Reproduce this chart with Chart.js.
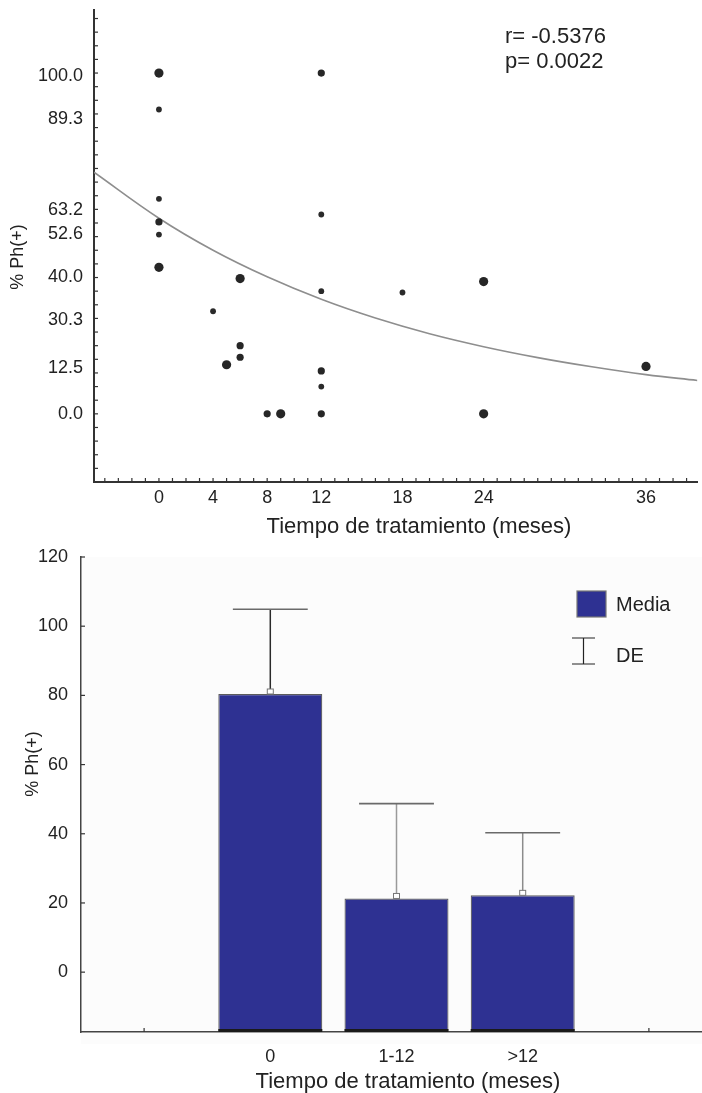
<!DOCTYPE html>
<html>
<head>
<meta charset="utf-8">
<script src="https://cdn.jsdelivr.net/npm/chart.js@4.4.1/dist/chart.umd.min.js"></script>
<style>
html, body { margin: 0; padding: 0; background: #fff; overflow: hidden; }
#top { position: absolute; left: 0; top: 0; width: 702px; height: 545px; }
#bottom { position: absolute; left: 0; top: 545px; width: 712px; height: 548px; }
</style>
</head>
<body>
<div id="top"><canvas id="scatter"></canvas></div>
<div id="bottom"><canvas id="bars"></canvas></div>
<script>
// --- scatter: % Ph(+) against months of treatment ---
const bigMonths = [0, 0, 6, 5, 9, 24, 24, 36];
const bigPh     = [100, 43, 39.7, 14.4, 0, 38.8, 0, 13.9];
const midMonths = [12, 0, 6, 6, 12, 8, 12];
const midPh     = [100, 56.3, 20, 16.6, 12.6, 0, 0];
const smallMonths = [0, 0, 0, 12, 4, 12, 12, 18];
const smallPh     = [89.3, 63.1, 52.6, 58.5, 30.1, 36, 8, 35.6];

// fitted curve
const curveMonths = [-4.8, 0, 4, 8, 12, 16, 20, 24, 28, 32, 36, 39.8];
const curvePh     = [70.9, 57.4, 48.0, 40.2, 33.6, 28.1, 23.5, 19.7, 16.5, 13.8, 11.5, 9.8];

const xTickLabels = [0, 4, 8, 12, 18, 24, 36];
const yTickText = ['0.0', '12.5', '30.3', '40.0', '52.6', '63.2', '89.3', '100.0'];
const yTickAt   = [0, 13.5, 27.6, 40, 52.9, 59.7, 86.5, 99];

const statsText = ['r= -0.5376', 'p= 0.0022'];
const xTitle = 'Tiempo de tratamiento (meses)';
const yTitle = '% Ph(+)';

// --- bars: mean and SD by treatment group ---
const groups = ['0', '1-12', '>12'];
const groupMean = [80.4, 21.3, 22.2];
const groupSD   = [24.5, 27.4, 18.1];
const barTicks  = [0, 20, 40, 60, 80, 100, 120];

const FONT = '"Liberation Sans", Arial, sans-serif';
Chart.defaults.font.family = FONT;
Chart.defaults.color = '#222';

const pts = (xs, ys) => xs.map((x, i) => ({x: x, y: ys[i]}));

// small tick marks pointing into the plot
const innerTicks = {
  id: 'innerTicks',
  beforeDatasetsDraw(chart, args, opts) {
    const ctx = chart.ctx;
    ctx.save();
    ctx.strokeStyle = '#333';
    ctx.lineWidth = 1.2;
    ['x', 'y'].forEach(id => {
      const sc = chart.scales[id];
      const step = opts[id];
      if (!step) return;
      const start = Math.ceil(sc.min / step) * step;
      for (let v = start; v <= sc.max + 1e-9; v += step) {
        const p = sc.getPixelForValue(v);
        ctx.beginPath();
        if (id === 'x') {
          ctx.moveTo(p, chart.chartArea.bottom);
          ctx.lineTo(p, chart.chartArea.bottom - 4);
        } else {
          ctx.moveTo(chart.chartArea.left, p);
          ctx.lineTo(chart.chartArea.left + 4, p);
        }
        ctx.stroke();
      }
    });
    ctx.restore();
  }
};

// axis titles sit a little off-centre in the original
const axisTitles = {
  id: 'axisTitles',
  afterDraw(chart, args, opts) {
    const ctx = chart.ctx;
    ctx.save();
    ctx.fillStyle = '#222';
    ctx.textAlign = 'center';
    ctx.textBaseline = 'middle';
    ctx.font = '22px ' + FONT;
    ctx.fillText(xTitle, opts.xAt[0], opts.xAt[1]);
    ctx.translate(opts.yAt[0], opts.yAt[1]);
    ctx.rotate(-Math.PI / 2);
    ctx.font = '18px ' + FONT;
    ctx.fillText(yTitle, 0, 0);
    ctx.restore();
  }
};

const statsLabel = {
  id: 'statsLabel',
  afterDraw(chart) {
    const ctx = chart.ctx;
    ctx.save();
    ctx.font = '22px ' + FONT;
    ctx.fillStyle = '#222';
    ctx.textBaseline = 'middle';
    ctx.fillText(statsText[0], 505, 37);
    ctx.fillText(statsText[1], 505, 62);
    ctx.restore();
  }
};

const noEdgePad = sc => { sc.paddingTop = 0; sc.paddingBottom = 0; };

new Chart(document.getElementById('scatter'), {
  type: 'scatter',
  data: {
    datasets: [
      {
        type: 'line',
        data: pts(curveMonths, curvePh),
        borderColor: '#8e8e8e',
        borderWidth: 1.6,
        pointRadius: 0,
        tension: 0.4,
        order: 2
      },
      { data: pts(bigMonths, bigPh), pointRadius: 4.6, backgroundColor: '#262626', borderWidth: 0 },
      { data: pts(midMonths, midPh), pointRadius: 3.6, backgroundColor: '#262626', borderWidth: 0 },
      { data: pts(smallMonths, smallPh), pointRadius: 2.9, backgroundColor: '#2a2a2a', borderWidth: 0 }
    ]
  },
  options: {
    responsive: true,
    maintainAspectRatio: false,
    animation: false,
    layout: { padding: { top: 10, left: 0, right: 0, bottom: 0 } },
    plugins: {
      legend: { display: false },
      tooltip: { enabled: false },
      innerTicks: { x: 1, y: 4 },
      axisTitles: { xAt: [419, 527], yAt: [18, 257] }
    },
    scales: {
      x: {
        type: 'linear',
        min: -4.8,
        max: 39.8,
        afterBuildTicks: sc => { sc.ticks = xTickLabels.map(v => ({value: v})); },
        afterFit: sc => { sc.height = 63; sc.paddingLeft = 0; sc.paddingRight = 0; },
        grid: { display: false, drawTicks: false },
        border: { display: true, color: '#333', width: 2 },
        ticks: { font: { size: 18 }, padding: 5, autoSkip: false, maxRotation: 0 }
      },
      y: {
        min: -20,
        max: 118.5,
        afterBuildTicks: sc => { sc.ticks = yTickAt.map(v => ({value: v})); },
        afterFit: sc => { sc.width = 94; noEdgePad(sc); },
        grid: { display: false, drawTicks: false },
        border: { display: true, color: '#333', width: 2 },
        ticks: { font: { size: 18 }, padding: 11, callback: (v, i) => yTickText[i] }
      }
    }
  },
  plugins: [innerTicks, statsLabel, axisTitles]
});

// --- bar chart ---
const slots = ['', ...groups, ''];
const slotMean = [null, ...groupMean, null];
const errColor = ['#2a2a2a', '#9a9a9a', '#8c8c8c'];
const barMin = -17.3;

const plotBg = {
  id: 'plotBg',
  beforeDraw(chart) {
    const a = chart.chartArea;
    const ctx = chart.ctx;
    ctx.save();
    ctx.fillStyle = '#fcfcfc';
    ctx.fillRect(a.left, a.top, a.right - a.left, a.bottom - a.top + 12);
    ctx.restore();
  }
};

const errorBars = {
  id: 'errorBars',
  afterDatasetsDraw(chart) {
    const ctx = chart.ctx;
    const y = chart.scales.y;
    const bars = chart.getDatasetMeta(0).data;
    ctx.save();
    groups.forEach((g, i) => {
      const bar = bars[i + 1];
      const yTop = y.getPixelForValue(groupMean[i] + groupSD[i]);
      const yMean = y.getPixelForValue(groupMean[i]);
      const half = bar.width * 0.36;
      // dark foot of each bar
      ctx.fillStyle = '#1a1a1a';
      ctx.fillRect(bar.x - bar.width / 2, bar.base - 3, bar.width, 3);
      ctx.lineWidth = 1.5;
      ctx.strokeStyle = errColor[i];
      ctx.beginPath();
      ctx.moveTo(bar.x, yMean);
      ctx.lineTo(bar.x, yTop);
      ctx.stroke();
      ctx.strokeStyle = '#6a6a6a';
      ctx.lineWidth = 1.6;
      ctx.beginPath();
      ctx.moveTo(bar.x - half, yTop);
      ctx.lineTo(bar.x + half, yTop);
      ctx.stroke();
      // small open marker at the mean
      ctx.fillStyle = '#fff';
      ctx.strokeStyle = '#777';
      ctx.lineWidth = 1;
      ctx.fillRect(bar.x - 3, yMean - 5, 6, 5);
      ctx.strokeRect(bar.x - 3, yMean - 5, 6, 5);
    });
    ctx.restore();
  }
};

const barLegend = {
  id: 'barLegend',
  afterDraw(chart) {
    const ctx = chart.ctx;
    ctx.save();
    ctx.fillStyle = '#2e3192';
    ctx.strokeStyle = '#777';
    ctx.lineWidth = 1.2;
    ctx.fillRect(577, 46, 29, 26);
    ctx.strokeRect(577, 46, 29, 26);
    ctx.strokeStyle = '#222';
    ctx.lineWidth = 1.2;
    ctx.beginPath();
    ctx.moveTo(572, 93); ctx.lineTo(595, 93);
    ctx.moveTo(583.5, 93); ctx.lineTo(583.5, 119);
    ctx.moveTo(572, 119); ctx.lineTo(595, 119);
    ctx.stroke();
    ctx.font = '20px ' + FONT;
    ctx.fillStyle = '#222';
    ctx.textBaseline = 'middle';
    ctx.fillText('Media', 616, 60);
    ctx.fillText('DE', 616, 111);
    ctx.restore();
  }
};

new Chart(document.getElementById('bars'), {
  type: 'bar',
  data: {
    labels: slots,
    datasets: [{
      data: slotMean,
      base: barMin,
      backgroundColor: '#2e3192',
      borderColor: '#5c5c5c',
      borderWidth: 1.2,
      borderSkipped: 'start',
      barPercentage: 0.824,
      categoryPercentage: 1
    }]
  },
  options: {
    responsive: true,
    maintainAspectRatio: false,
    animation: false,
    layout: { padding: { top: 12, left: 0, right: 0, bottom: 0 } },
    plugins: {
      legend: { display: false },
      tooltip: { enabled: false },
      innerTicks: { x: 1, y: 20 },
      axisTitles: { xAt: [408, 537], yAt: [33, 219] }
    },
    scales: {
      x: {
        afterFit: sc => { sc.height = 61; sc.paddingLeft = 0; sc.paddingRight = 0; },
        grid: { display: false, drawTicks: false },
        border: { display: true, color: '#444', width: 1.5 },
        ticks: { font: { size: 18 }, padding: 14, autoSkip: false, maxRotation: 0 }
      },
      y: {
        min: barMin,
        max: 120,
        afterBuildTicks: sc => { sc.ticks = barTicks.map(v => ({value: v})); },
        afterFit: sc => { sc.width = 81; noEdgePad(sc); },
        grid: { display: false, drawTicks: false },
        border: { display: true, color: '#444', width: 1.5 },
        ticks: { font: { size: 18 }, padding: 13 }
      }
    }
  },
  plugins: [plotBg, innerTicks, errorBars, barLegend, axisTitles]
});
</script>
</body>
</html>
